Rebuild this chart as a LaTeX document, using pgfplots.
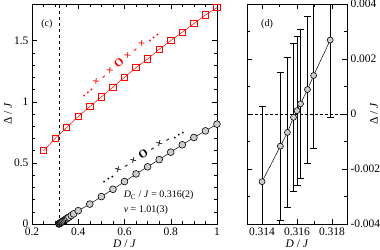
\documentclass[border=0pt]{standalone}
\usepackage{pgfplots}
\pgfplotsset{compat=1.18}
\usepackage{pgfplotstable}
\usepackage{fontspec}
\setmainfont{Liberation Serif}
\pgfplotstableread{
x y
0.25 0.60
0.30 0.70
0.35 0.79
0.40 0.88
0.45 0.96
0.50 1.04
0.55 1.12
0.60 1.20
0.65 1.28
0.70 1.35
0.75 1.43
0.80 1.50
0.85 1.57
0.90 1.64
0.95 1.71
1.00 1.77
}\redtab
\pgfplotstableread{
x y
0.316 0.000
0.318 0.003
0.320 0.006
0.322 0.008
0.325 0.012
0.328 0.016
0.331 0.020
0.335 0.025
0.340 0.031
0.345 0.038
0.350 0.044
0.355 0.050
0.360 0.057
0.370 0.070
0.380 0.083
0.400 0.109
0.45 0.163
0.50 0.224
0.55 0.284
0.60 0.347
0.65 0.410
0.70 0.468
0.75 0.527
0.80 0.588
0.85 0.648
0.90 0.708
0.95 0.762
1.00 0.817
}\graytab
\pgfplotstableread{
x y e
0.31400 -0.00246 0.00275
0.31505 -0.00117 0.00270
0.31545 -0.00067 0.00272
0.31580 -0.00012 0.00270
0.31600 0.00012 0.00270
0.31620 0.00037 0.00270
0.31660 0.00089 0.00267
0.31695 0.00140 0.00265
0.31790 0.00269 0.00280
}\righttab
\begin{document}
\begin{tikzpicture}
\path[use as bounding box] (0pt,0pt) rectangle (380pt,249pt);
\pgfplotsset{every axis/.append style={
  scale only axis, height=220pt, tick align=inside,
  /pgf/number format/assume math mode=true,
  major tick length=5pt, minor tick length=3pt,
  tick style={black, line width=0.5pt},
  axis line style={line width=0.6pt},
  label style={font=\fontsize{11.5}{13}\selectfont},
  tick label style={font=\fontsize{11.5}{13}\selectfont},
}}
\begin{axis}[at={(32pt,25pt)}, anchor=south west, width=185pt,
  xmin=0.2, xmax=1, ymin=0, ymax=1.8,
  xtick={0.2,0.4,0.6,0.8,1}, xticklabels={0.2,0.4,0.6,0.8,1}, minor x tick num=3,
  ytick={0,0.5,1,1.5}, yticklabels={0,0.5,1,1.5}, minor y tick num=4,
  xlabel={\textit{D} / \textit{J}}, ylabel={Δ / \textit{J}},
  x label style={at={(axis description cs:0.5,0)}, anchor=center, yshift=-20pt},
  y label style={at={(axis description cs:0,0.5)}, anchor=center, yshift=24pt},
  every node/.append style={font=\fontsize{11.5}{13}\selectfont},
]
\addplot[black, dashed, line width=0.5pt] coordinates {(0.316,0) (0.316,1.8)};
\addplot[red, line width=0.5pt, mark=square, mark size=3.2pt, mark options={red, line width=0.8pt, fill=white}] table[x=x,y=y] {\redtab};
\addplot[black, line width=0.5pt, mark=*, mark size=3.4pt, mark options={fill=gray!40, draw=black, line width=0.6pt}] table[x=x,y=y] {\graytab};
\node[anchor=center] at (rel axis cs:0.08,0.91) {(c)};
\node[anchor=west, inner sep=0pt] at (rel axis cs:0.495,0.13) {\textit{D}\textsubscript{C} / \textit{J} = 0.316(2)};
\node[anchor=west, inner sep=0pt] at (rel axis cs:0.495,0.062) {\textit{ν} = 1.01(3)};
\node[red, rotate=40, font=\bfseries\fontsize{11.5}{13}\selectfont] at (rel axis cs:0.47,0.732) {.\,.\,.\,\,×\,\,-\,\,×\,\,O\,\,×\,\,-\,\,×\,\,.\,.\,.};
\node[black, rotate=32, font=\bfseries\fontsize{11.5}{13}\selectfont] at (rel axis cs:0.595,0.314) {.\,.\,.\,\,×\,\,-\,\,×\,\,O\,\,-\,\,×\,\,-\,\,.\,.\,.};
\end{axis}
\begin{axis}[at={(247pt,25pt)}, anchor=south west, width=100pt,
  xmin=0.31314, xmax=0.31886, ymin=-0.004, ymax=0.004,
  xtick={0.314,0.316,0.318}, xticklabels={0.314,0.316,0.318}, minor xtick={0.315,0.317},
  ytick={-0.004,-0.002,0,0.002,0.004}, yticklabels={-0.004,-0.002,0,0.002,0.004},
  minor ytick={-0.003,-0.001,0.001,0.003},
  yticklabel pos=right,
  xlabel={\textit{D} / \textit{J}}, ylabel={Δ / \textit{J}},
  x label style={at={(axis description cs:0.5,0)}, anchor=center, yshift=-20pt},
  y label style={at={(axis description cs:1,0.5)}, anchor=center, yshift=-27pt},
  every node/.append style={font=\fontsize{11.5}{13}\selectfont},
]
\addplot[black, densely dashed, line width=0.5pt] coordinates {(0.313,0) (0.319,0)};
\addplot[black, line width=0.5pt, mark=*, mark size=3pt, mark options={fill=gray!40, draw=black, line width=0.6pt},
  error bars/.cd, y dir=both, y explicit,
  error bar style={black, line width=0.6pt},
  error mark options={black, mark size=3.5pt, line width=0.6pt, rotate=90}]
  table[x=x,y=y,y error=e] {\righttab};
\node[anchor=center] at (rel axis cs:0.2,0.91) {(d)};
\end{axis}
\end{tikzpicture}
\end{document}
